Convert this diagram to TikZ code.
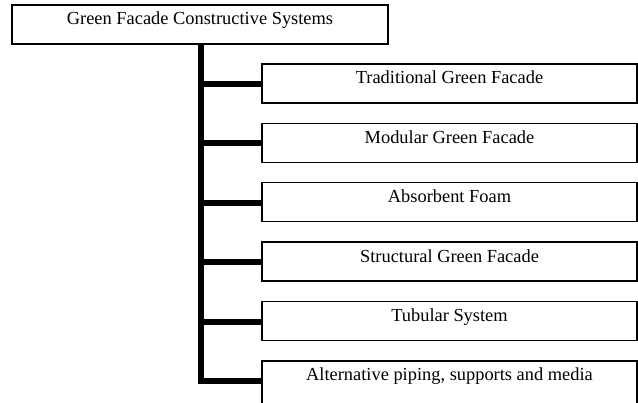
\documentclass[tikz,border=0pt]{standalone}
\usepackage{fontspec}
\setmainfont{Liberation Serif}
\usetikzlibrary{positioning}

\begin{document}
\begin{tikzpicture}[x=1pt, y=-1pt, node distance=19pt,
    box/.style={draw, line width=1.4pt, minimum width=375pt, inner ysep=3pt,
      text height=17pt, text depth=16pt, font=\fontsize{18.4}{22}\selectfont},
    branch/.style={line width=6pt}]
    \useasboundingbox (0,0) rectangle (638,403);
    \clip (0,0) rectangle (638,403);

    \node[box, minimum width=376pt] (root) at (200,24.5) {Green Facade Constructive Systems};

    % Systems
    \node[box] (trad) at (449.5,83.5) {Traditional Green Facade};
    \node[box, below=of trad] (modular) {Modular Green Facade};
    \node[box, below=of modular] (foam) {Absorbent Foam};
    \node[box, below=of foam] (structural) {Structural Green Facade};
    \node[box, below=of structural] (tubular) {Tubular System};
    \node[box, below=of tubular, text depth=32pt] (alt) {Alternative piping, supports and media};

    % Trunk and branches
    \coordinate (top) at ([xshift=1pt]root.south);
    \draw[branch] (top) -- (top |- alt.base west) -- (alt.base west);
    \foreach \n in {trad, modular, foam, structural, tubular}
        \draw[branch] (top |- \n.base west) -- (\n.base west);
\end{tikzpicture}
\end{document}
